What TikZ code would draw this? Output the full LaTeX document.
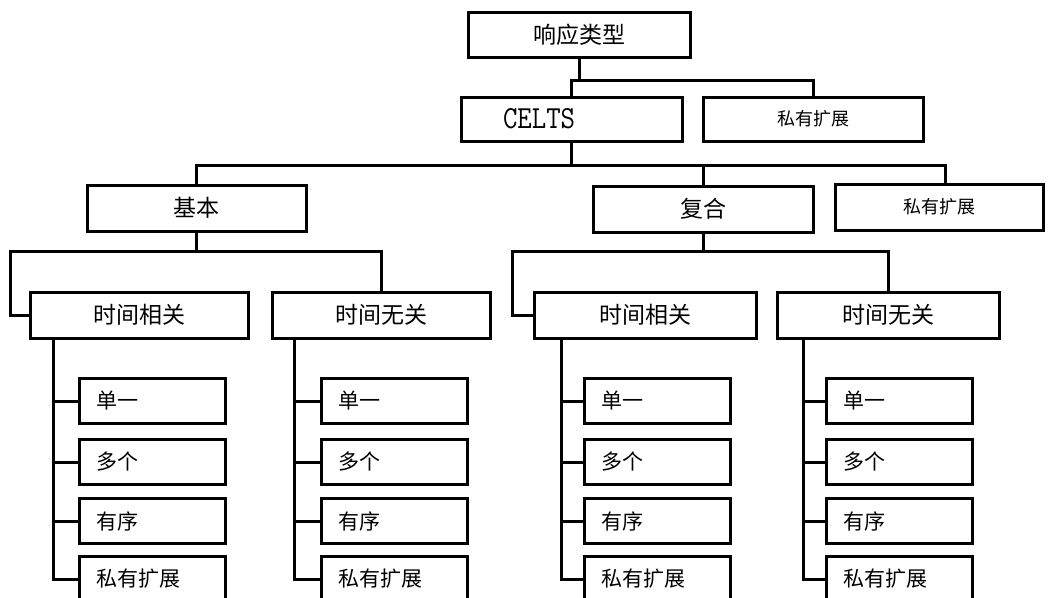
\documentclass[tikz,border=0pt]{standalone}
\usepackage{fontspec}
\newfontfamily\cjk{Noto Sans CJK SC}
\usetikzlibrary{positioning}

\begin{document}
\begin{tikzpicture}[x=1pt, y=-1pt, line width=3pt]
	\tikzstyle{box} = [draw, line width=3pt, rectangle, inner sep=0pt, minimum height=46pt, minimum width=219pt, font=\cjk\fontsize{23}{25}\selectfont]
	\tikzstyle{small} = [font=\cjk\fontsize{18}{20}\selectfont]
	\tikzstyle{leaf} = [draw, line width=3pt, rectangle, anchor=north west, minimum height=45pt, text width=112pt, inner xsep=17pt, inner ysep=0pt, align=left, font=\cjk\fontsize{21}{23}\selectfont]

	\useasboundingbox (0,0) rectangle (1049,597);
	\clip (0,0) rectangle (1049,597);

	\coordinate (bus0) at (0,80);
	\coordinate (bus1) at (0,165);
	\coordinate (bus2) at (0,251);

	% top levels
	\node[box, minimum width=222pt, minimum height=45pt] (top) at (579,34.5) {响应类型};
	\node[box, minimum width=0pt, minimum height=44pt, text width=137pt, inner xsep=42pt, align=left,
		font=\ttfamily\fontsize{28}{30}\selectfont] (celts) at (571.5,119) {\scalebox{1}[1.15]{CELTS}};
	\node[box, small, minimum width=220pt, minimum height=44pt] (ext1) at (813,119) {私有扩展};

	\node[box] (basic) at (196.5,208) {基本};
	\node[box, minimum width=220pt] (comp) at (703,209) {复合};
	\node[box, small, minimum width=208pt] (ext2) at (939,207) {私有扩展};

	\draw (top.south) -- (top.south |- bus0);
	\draw (celts.north) |- (ext1.north |- bus0) -- (ext1.north);
	\draw (celts.south) -- (celts.south |- bus1);
	\draw (basic.north) |- ([xshift=6pt]ext2.north |- bus1) -- ([xshift=6pt]ext2.north);
	\draw (comp.north) -- (comp.north |- bus1);

	% basic group
	\begin{scope}
	\node[box, minimum width=218pt] (tra) at (139,315) {时间相关};
	\node[box, minimum width=218pt] (tna) at (381,315) {时间无关};
	\foreach \t/\y [count=\i] in {单一/377, 多个/438, 有序/497, 私有扩展/555} {
		\node[leaf] (la\i) at (78,\y) {\t};
		\node[leaf] (ma\i) at (320,\y) {\t};
	}

	\draw (basic.south) -- (basic.south |- bus2);
	\draw (tra.west) -- ++(-18,0) |- (tna.north |- bus2) -- (tna.north);
	\draw ([xshift=25pt]tra.south west) |- (la4.west);
	\draw ([xshift=24pt]tna.south west) |- (ma4.west);
	\foreach \i in {1,2,3} {
		\draw (la\i.west) -- +(-23,0);
		\draw (ma\i.west) -- +(-24,0);
	}
	\end{scope}

	% composite group
	\begin{scope}[xshift=505pt]
	\node[box, minimum width=222pt] (trb) at (140,315) {时间相关};
	\node[box, minimum width=222pt] (tnb) at (383,315) {时间无关};
	\foreach \t/\y [count=\i] in {单一/377, 多个/438, 有序/497, 私有扩展/555} {
		\node[leaf] (lb\i) at (78,\y) {\t};
		\node[leaf] (mb\i) at (320,\y) {\t};
	}

	\draw (comp.south) -- (comp.south |- bus2);
	\draw (trb.west) -- ++(-20,0) |- (tnb.north |- bus2) -- (tnb.north);
	\draw ([xshift=29pt]trb.south west) |- (lb4.west);
	\draw ([xshift=28pt]tnb.south west) |- (mb4.west);
	\foreach \i in {1,2,3} {
		\draw (lb\i.west) -- +(-20,0);
		\draw (mb\i.west) -- +(-20,0);
	}
	\end{scope}
\end{tikzpicture}
\end{document}
